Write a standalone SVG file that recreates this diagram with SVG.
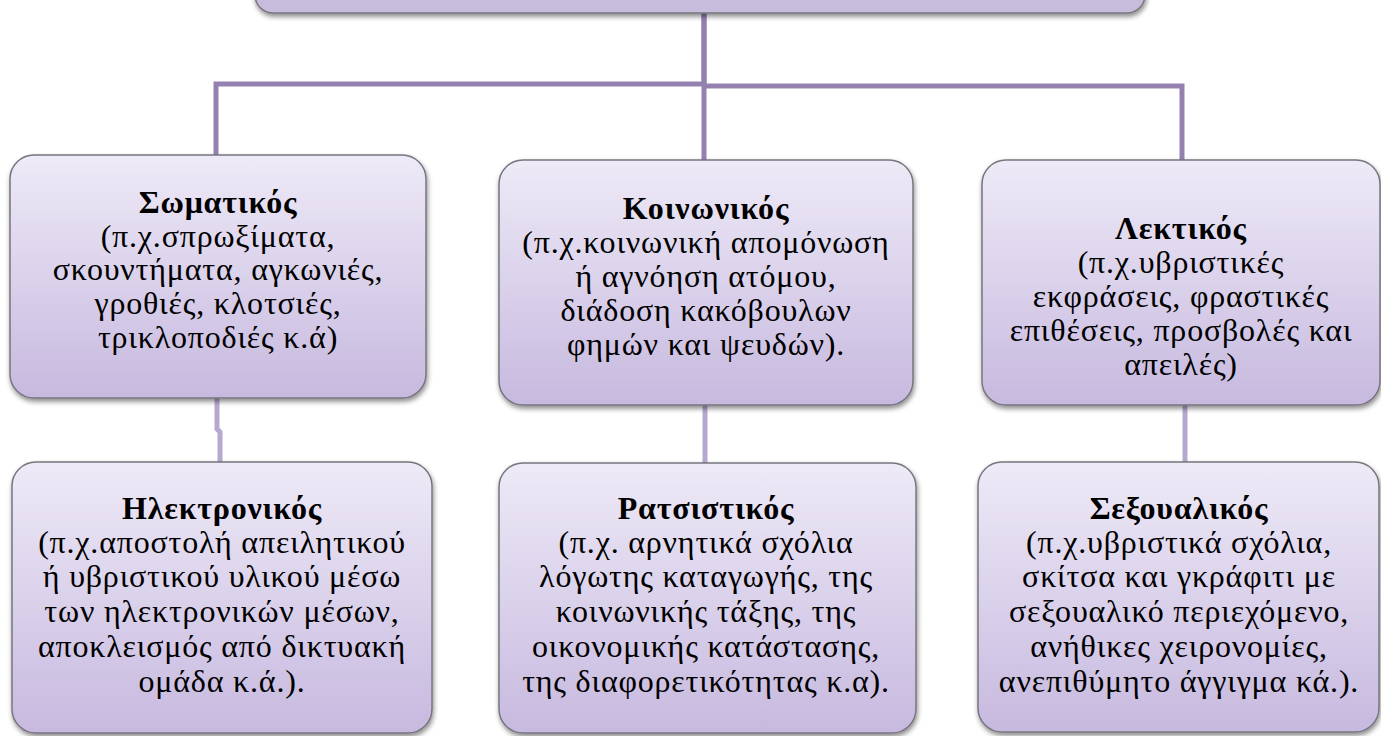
<svg xmlns="http://www.w3.org/2000/svg" width="1381" height="736" viewBox="0 0 1381 736">
<style>
.box{fill:url(#g);stroke:#77757f;stroke-width:1.5;filter:url(#sh)}
.top{fill:#c8bcdd;stroke:#77757f;stroke-width:1.5;filter:url(#sh)}
.c1{fill:none;stroke:#9581b0;stroke-width:5}
.c2{fill:none;stroke:#b6a9cf;stroke-width:5}
text{font-family:"Liberation Serif","DejaVu Serif",serif;font-size:32px;letter-spacing:0.8px;fill:#000;text-anchor:middle}
.t{font-weight:bold}
</style>
<defs>
<linearGradient id="g" x1="0" y1="0" x2="0" y2="1">
<stop offset="0" stop-color="#eeeaf7"/>
<stop offset="1" stop-color="#c7b9df"/>
</linearGradient>
<filter id="sh" x="-5%" y="-5%" width="110%" height="120%">
<feDropShadow dx="1" dy="3" stdDeviation="2.5" flood-color="#000" flood-opacity="0.45"/>
</filter>
</defs>
<g id="connectors">
<path class="c1" d="M704,13 V84 H216 V155"/>
<path class="c1" d="M704,13 V160"/>
<path class="c1" d="M704,86 H1182 V160"/>
<path class="c2" d="M217,398 V429 L220,432 V462"/>
<path class="c2" d="M705,405 V463"/>
<path class="c2" d="M1185,405 V462"/>
</g>
<g id="root"><rect class="top" x="255" y="-60" width="890" height="73" rx="18"/></g>
<g id="n1">
<rect class="box" x="10" y="155" width="416" height="243" rx="24"/>
<text x="218" y="213" class="t">Σωματικός</text>
<text x="218" y="247">(π.χ.σπρωξίματα,</text>
<text x="218" y="280">σκουντήματα, αγκωνιές,</text>
<text x="218" y="314">γροθιές, κλοτσιές,</text>
<text x="218" y="348">τρικλοποδιές κ.ά)</text>
</g>
<g id="n2">
<rect class="box" x="499" y="160" width="414" height="245" rx="24"/>
<text x="706" y="219" class="t">Κοινωνικός</text>
<text x="706" y="253">(π.χ.κοινωνική απομόνωση</text>
<text x="706" y="287">ή αγνόηση ατόμου,</text>
<text x="706" y="321">διάδοση κακόβουλων</text>
<text x="706" y="355">φημών και ψευδών).</text>
</g>
<g id="n3">
<rect class="box" x="982" y="160" width="398" height="245" rx="24"/>
<text x="1181" y="239" class="t">Λεκτικός</text>
<text x="1181" y="273">(π.χ.υβριστικές</text>
<text x="1181" y="307">εκφράσεις, φραστικές</text>
<text x="1181" y="341">επιθέσεις, προσβολές και</text>
<text x="1181" y="375">απειλές)</text>
</g>
<g id="n4">
<rect class="box" x="12" y="462" width="420" height="271" rx="24"/>
<text x="222" y="519" class="t">Ηλεκτρονικός</text>
<text x="222" y="553">(π.χ.αποστολή απειλητικού</text>
<text x="222" y="587">ή υβριστικού υλικού μέσω</text>
<text x="222" y="622">των ηλεκτρονικών μέσων,</text>
<text x="222" y="657">αποκλεισμός από δικτυακή</text>
<text x="222" y="692">ομάδα κ.ά.).</text>
</g>
<g id="n5">
<rect class="box" x="499" y="463" width="417" height="270" rx="24"/>
<text x="706" y="519" class="t">Ρατσιστικός</text>
<text x="706" y="553">(π.χ. αρνητικά σχόλια</text>
<text x="706" y="587">λόγωτης καταγωγής, της</text>
<text x="706" y="622">κοινωνικής τάξης, της</text>
<text x="706" y="657">οικονομικής κατάστασης,</text>
<text x="706" y="692">της διαφορετικότητας κ.α).</text>
</g>
<g id="n6">
<rect class="box" x="978" y="462" width="401" height="270" rx="24"/>
<text x="1179" y="519" class="t">Σεξουαλικός</text>
<text x="1179" y="553">(π.χ.υβριστικά σχόλια,</text>
<text x="1179" y="587">σκίτσα και γκράφιτι με</text>
<text x="1179" y="622">σεξουαλικό περιεχόμενο,</text>
<text x="1179" y="657">ανήθικες χειρονομίες,</text>
<text x="1179" y="692">ανεπιθύμητο άγγιγμα κά.).</text>
</g>
</svg>
